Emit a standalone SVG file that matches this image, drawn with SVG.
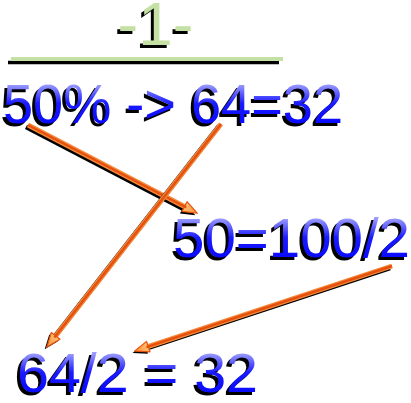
<svg xmlns="http://www.w3.org/2000/svg" width="411" height="403" viewBox="0 0 411 403">
<style>
.t{font-family:"Liberation Sans",Arial,sans-serif;font-size:56px}
.sh{fill:#000}
.bl{fill:url(#bg)}
.gt{font-family:"Liberation Sans",Arial,sans-serif;font-size:62px;text-anchor:middle}
.ln{fill:none;stroke-linecap:butt}
.so{stroke:#000;stroke-width:4.5}
.ou{stroke:#f58a3a;stroke-width:5}
.in{stroke:#e5500f;stroke-width:2.4}
</style>
<defs>
<linearGradient id="bg" x1="0" y1="0" x2="0" y2="1">
<stop offset="0" stop-color="#c0c0ff"/>
<stop offset="0.2" stop-color="#9a9aff"/>
<stop offset="0.5" stop-color="#1a1aff"/>
<stop offset="1" stop-color="#0000ff"/>
</linearGradient>
<linearGradient id="hg" x1="0" y1="0" x2="1" y2="0">
<stop offset="0" stop-color="#ffc070"/>
<stop offset="1" stop-color="#ff8a30"/>
</linearGradient>
<marker id="ah" markerUnits="userSpaceOnUse" markerWidth="17" markerHeight="14" viewBox="0 0 17 14" refX="3" refY="7" orient="auto">
<path d="M1,1.5 L15.5,7 L1,12.5 Z" fill="url(#hg)" stroke="#e5500f" stroke-width="1.2" stroke-linejoin="round"/>
</marker>
<marker id="ahs" markerUnits="userSpaceOnUse" markerWidth="17" markerHeight="14" viewBox="0 0 17 14" refX="3" refY="7" orient="auto">
<path d="M1,1.5 L15.5,7 L1,12.5 Z" fill="#000"/>
</marker>
</defs>
<rect width="411" height="403" fill="#fff"/>

<g id="title">
<text class="gt sh" x="152.5" y="48">-1-</text>
<text class="gt" x="155.5" y="45" fill="#c5e0a5">-1-</text>
<line x1="8" y1="62.5" x2="279" y2="62.5" stroke="#000" stroke-width="3.5"/>
<line x1="11" y1="59" x2="283" y2="59" stroke="#c5e0a5" stroke-width="4"/>
</g>

<g id="node-top">
<text class="t sh" x="0" y="126" textLength="340" lengthAdjust="spacingAndGlyphs">50% -&gt; 64=32</text>
<text class="t bl" x="3" y="123" textLength="340" lengthAdjust="spacingAndGlyphs">50% -&gt; 64=32</text>
</g>

<g id="node-mid">
<text class="t sh" x="170" y="260" textLength="237" lengthAdjust="spacingAndGlyphs">50=100/2</text>
<text class="t bl" x="173" y="257" textLength="237" lengthAdjust="spacingAndGlyphs">50=100/2</text>
</g>

<g id="node-bottom">
<text class="t sh" x="14" y="395" textLength="241" lengthAdjust="spacingAndGlyphs">64/2 = 32</text>
<text class="t bl" x="17" y="392" textLength="241" lengthAdjust="spacingAndGlyphs">64/2 = 32</text>
</g>

<g id="connectors">
<g id="arrow1">
<path class="ln so" d="M26,127 L184.3,209.5" marker-end="url(#ahs)"/>
<path class="ln ou" d="M28,125 L186.3,207.5" marker-end="url(#ah)"/>
<path class="ln in" d="M28,125 L186.3,207.5"/>
</g>
<g id="arrow2">
<path class="ln so" d="M219,126 L52.4,339.5" marker-end="url(#ahs)"/>
<path class="ln ou" d="M221,124 L54.4,337.5" marker-end="url(#ah)"/>
<path class="ln in" d="M221,124 L54.4,337.5"/>
</g>
<g id="arrow3">
<path class="ln so" d="M390,268 L144.4,349.2" marker-end="url(#ahs)"/>
<path class="ln ou" d="M392,266 L146.4,347.2" marker-end="url(#ah)"/>
<path class="ln in" d="M392,266 L146.4,347.2"/>
</g>
</g>
</svg>
